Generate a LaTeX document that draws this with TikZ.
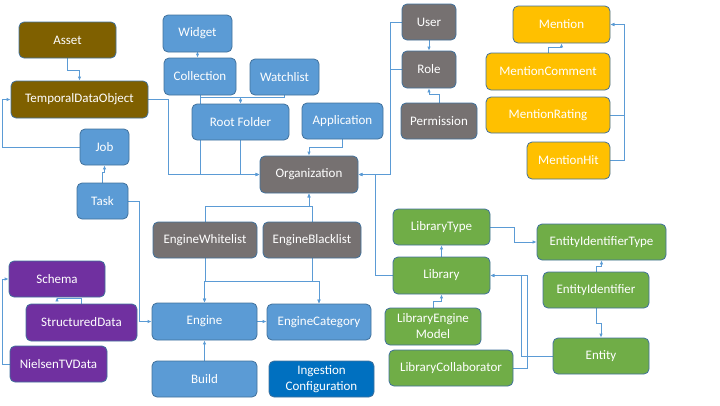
\documentclass[tikz,border=0pt]{standalone}
\usepackage{fontspec}
\setmainfont{Carlito}
\usetikzlibrary{arrows.meta}
\definecolor{cblue}{HTML}{5B9BD5}
\definecolor{cborder}{HTML}{41719C}
\definecolor{cgray}{HTML}{767171}
\definecolor{cbrown}{HTML}{7F6000}
\definecolor{cpurple}{HTML}{7030A0}
\definecolor{cgold}{HTML}{FFC000}
\definecolor{cgreen}{HTML}{70AD47}
\definecolor{cdark}{HTML}{0070C0}
\pgfdeclarelayer{bg}
\pgfsetlayers{bg,main}
\tikzset{
  box/.style={draw=cborder, line width=0.8pt, rounded corners=5pt, text=white,
    inner sep=0pt, align=center, font=\fontsize{13}{16}\selectfont},
  bluebox/.style={box, fill=cblue},
  graybox/.style={box, fill=cgray},
  brownbox/.style={box, fill=cbrown},
  purplebox/.style={box, fill=cpurple},
  goldbox/.style={box, fill=cgold},
  greenbox/.style={box, fill=cgreen},
  darkbox/.style={box, fill=cdark},
  conn/.style={draw=cblue, line width=0.9pt, -{Latex[length=4pt,width=3.5pt]}},
}
\begin{document}
\begin{tikzpicture}[x=1pt,y=-1pt]
\useasboundingbox (0,0) rectangle (720,405);
% nodes
\node[brownbox, minimum width=97pt, minimum height=36pt] (asset) at (67.5,40) {Asset};
\node[brownbox, minimum width=137pt, minimum height=37pt] (tdo) at (79.5,99.5) {TemporalDataObject};
\node[bluebox, minimum width=49pt, minimum height=36pt] (job) at (104.5,147) {Job};
\node[bluebox, minimum width=51pt, minimum height=36pt] (task) at (102.5,201) {Task};
\node[bluebox, minimum width=69pt, minimum height=37pt] (widget) at (197.5,33.5) {Widget};
\node[bluebox, minimum width=72pt, minimum height=37pt] (collection) at (200,76.5) {Collection};
\node[bluebox, minimum width=69pt, minimum height=36pt] (watchlist) at (284.5,77) {Watchlist};
\node[bluebox, minimum width=97pt, minimum height=36pt] (rootfolder) at (240.5,122) {Root Folder};
\node[bluebox, minimum width=81pt, minimum height=36pt] (application) at (342.5,121) {Application};
\node[graybox, minimum width=98pt, minimum height=37pt] (org) at (309,174.5) {Organization};
\node[graybox, minimum width=54pt, minimum height=36pt] (user) at (429,22) {User};
\node[graybox, minimum width=54pt, minimum height=37pt] (role) at (429,69.5) {Role};
\node[graybox, minimum width=76pt, minimum height=36pt] (permission) at (439,121) {Permission};
\node[goldbox, minimum width=97pt, minimum height=37pt] (mention) at (561.5,24.5) {Mention};
\node[goldbox, minimum width=124pt, minimum height=37pt] (mcomment) at (548,71.5) {MentionComment};
\node[goldbox, minimum width=124pt, minimum height=36pt] (mrating) at (548,115) {MentionRating};
\node[goldbox, minimum width=83pt, minimum height=37pt] (mhit) at (568.5,160.5) {MentionHit};
\node[graybox, minimum width=104pt, minimum height=36pt] (ew) at (205,240) {EngineWhitelist};
\node[graybox, minimum width=98pt, minimum height=36pt] (eb) at (312,240) {EngineBlacklist};
\node[purplebox, minimum width=96pt, minimum height=36pt] (schema) at (57,279) {Schema};
\node[purplebox, minimum width=111pt, minimum height=37pt] (sd) at (81.5,322.5) {StructuredData};
\node[purplebox, minimum width=97pt, minimum height=36pt] (ntv) at (58.5,364) {NielsenTVData};
\node[bluebox, minimum width=105pt, minimum height=37pt] (engine) at (204.5,321.5) {Engine};
\node[bluebox, minimum width=105pt, minimum height=36pt] (build) at (204.5,379) {Build};
\node[bluebox, minimum width=104pt, minimum height=36pt] (ec) at (319,322) {EngineCategory};
\node[darkbox, minimum width=105pt, minimum height=36pt] (ingestion) at (321.5,379) {Ingestion\\Configuration};
\node[greenbox, minimum width=97pt, minimum height=36pt] (libtype) at (441.5,227) {LibraryType};
\node[greenbox, minimum width=97pt, minimum height=37pt] (library) at (441.5,275.5) {Library};
\node[greenbox, minimum width=96pt, minimum height=37pt] (lem) at (433,326.5) {LibraryEngine\\Model};
\node[greenbox, minimum width=124pt, minimum height=36pt] (lc) at (451,368) {LibraryCollaborator};
\node[greenbox, minimum width=129pt, minimum height=36pt] (eit) at (601.5,242) {EntityIdentifierType};
\node[greenbox, minimum width=106pt, minimum height=36pt] (ei) at (596,290) {EntityIdentifier};
\node[greenbox, minimum width=96pt, minimum height=36pt] (entity) at (601,356) {Entity};
% connectors
\begin{pgfonlayer}{bg}
\draw[conn] (asset.south) -- ++(0,12) -| (tdo.north);
\draw[conn] (job.west) -- ++(-77,0) |- (tdo.west);
\draw[conn] (widget.south) -- (widget.south |- collection.north);
\draw[conn] (collection.south) -- ++(0,2.5) -| (rootfolder.north);
\draw[conn] (watchlist.south) -- ++(0,2.5) -| (rootfolder.north);
\draw[conn] (collection.south) |- (org.west);
\draw[conn] (rootfolder.south) |- (org.west);
\draw[conn] (tdo.east) -- ++(20,0) |- (org.west);
\draw[conn] (application.south) -- ++(0,8) -| (org.north);
\draw[conn] (user.west) -- ++(-11,0) |- (org.east);
\draw[conn] (role.west) -- ++(-11,0) |- (org.east);
\draw[conn] (library.west) -- ++(-17,0) |- (org.east);
\draw[conn] (user.south) -- (role.north);
\draw[conn] (permission.north) -- ++(0,-8) -| (role.south);
\draw[conn] (mcomment.north) -- ++(0,-5) -| (mention.south);
\draw[conn] (mrating.east) -- ++(14,0) |- (mention.east);
\draw[conn] (mhit.east) -- ++(14,0) |- (mention.east);
\draw[conn] (task.north) -- ++(0,-10) -| (job.south);
\draw[conn] (task.east) -- ++(11,0) |- (engine.west);
\draw[conn] (sd.north) -- ++(0,-5) -| (schema.south);
\draw[conn] (ntv.west) -- ++(-7,0) |- (schema.west);
\draw[conn] (ew.north) -- ++(0,-15) -| (org.south);
\draw[conn] (eb.north) -- ++(0,-15) -| (org.south);
\draw[conn] (ew.south) -- ++(0,23) -| (engine.north);
\draw[conn] (ew.south) -- ++(0,23) -| (ec.north);
\draw[conn] (eb.south) -- ++(0,23) -| (engine.north);
\draw[conn] (eb.south) -- ++(0,23) -| (ec.north);
\draw[conn] (engine.east) -- (engine.east -| ec.west);
\draw[conn] (build.north) -- (engine.south);
\draw[conn] (library.north) -- (libtype.south);
\draw[conn] (lem.north) -- ++(0,-6) -| (library.south);
\draw[conn] (libtype.east) -- ++(24,0) |- (eit.west);
\draw[conn] (ei.north) -- ++(0,-5) -| (eit.south);
\draw[conn] (ei.south) -- ++(0,15) -| (entity.north);
\draw[conn] (entity.west) -- ++(-31,0) |- (library.east);
\draw[conn] (lc.east) -- ++(14,0) |- (library.east);
\end{pgfonlayer}
\end{tikzpicture}
\end{document}
